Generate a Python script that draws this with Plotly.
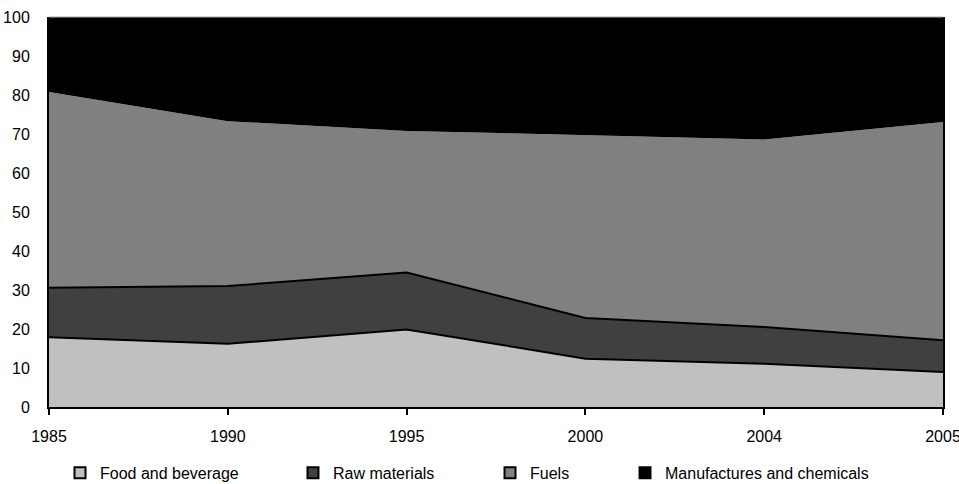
import plotly.graph_objects as go

years = ["1985", "1990", "1995", "2000", "2004", "2005"]
food = [17.9, 16.2, 19.9, 12.4, 11.1, 9.0]
raw = [12.7, 14.8, 14.6, 10.4, 9.4, 8.1]
fuels = [50.2, 42.3, 36.3, 46.9, 48.1, 56.0]
manuf = [19.2, 26.7, 29.2, 30.3, 31.4, 26.9]

names = ["Food and beverage", "Raw materials", "Fuels", "Manufactures and chemicals"]
series = [food, raw, fuels, manuf]
colors = ["#c0c0c0", "#404040", "#808080", "#000000"]
line_w = [2, 2, 0, 0]
legend_ids = ["legend", "legend2", "legend3", "legend4"]
legend_x = [0.0123, 0.2729, 0.4933, 0.6443]

FONT = "Liberation Sans, Arial, sans-serif"
FSIZE = 16

fig = go.Figure()
for name, vals, col, lw in zip(names, series, colors, line_w):
    fig.add_trace(go.Scatter(
        x=years, y=vals, name=name, stackgroup="one", mode="lines",
        fillcolor=col, line=dict(color="#000000", width=lw),
        showlegend=False, hoverinfo="x+y+name",
    ))

for name, col, lg in zip(names, colors, legend_ids):
    fig.add_trace(go.Scatter(
        x=[None], y=[None], name=name, mode="markers",
        marker=dict(symbol="square", size=11, color=col,
                    line=dict(color="#000000", width=2)),
        showlegend=True, legend=lg,
    ))

layout_legends = {}
for lg, lx in zip(legend_ids, legend_x):
    layout_legends[lg] = dict(
        x=lx, y=-0.169, xanchor="left", yanchor="middle",
        orientation="h", bgcolor="rgba(0,0,0,0)", borderwidth=0,
        font=dict(family=FONT, size=FSIZE, color="#000000"),
        itemwidth=30,
    )

fig.update_layout(
    width=959, height=484,
    margin=dict(l=49, r=16, t=17, b=77, autoexpand=False),
    paper_bgcolor="#ffffff", plot_bgcolor="#ffffff",
    font=dict(family=FONT, size=FSIZE, color="#000000"),
    xaxis=dict(
        type="category", range=[0, 5], showgrid=False, zeroline=False,
        showline=True, linecolor="#000000", linewidth=2,
        ticks="outside", ticklen=6, tickwidth=2, tickcolor="#000000",
        ticklabelstandoff=8, automargin=False,
    ),
    yaxis=dict(
        range=[0, 100], dtick=10, showgrid=False, zeroline=False,
        showline=True, linecolor="#000000", linewidth=2, mirror=True,
        ticks="", ticklabelstandoff=14, automargin=False,
    ),
    shapes=[dict(type="line", xref="paper", yref="paper", x0=0, x1=1, y0=1, y1=1,
                 line=dict(color="#a8a8a8", width=1), layer="above")],
    **layout_legends,
)

fig.write_html("out.html")
